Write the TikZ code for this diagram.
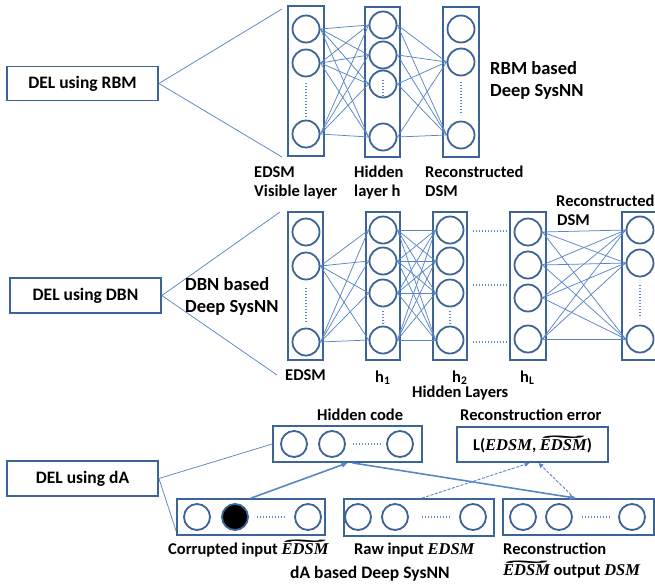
\documentclass[tikz,border=0pt]{standalone}
\usepackage{fontspec}
\usepackage{graphicx}
\setmainfont{Carlito}
\newfontfamily\serifvar{Liberation Serif}
\usetikzlibrary{arrows.meta}
\definecolor{framecol}{RGB}{60,100,150}
\definecolor{linkcol}{RGB}{88,135,200}
% bold italic variable names, as in the equation editor
\newcommand{\mvar}[1]{{\serifvar\bfseries\itshape #1}}
% a variable name with a wide tilde stretched over it
\newsavebox{\wordbox}
\newcommand{\tilword}[1]{\sbox{\wordbox}{\mvar{#1}}%
  \makebox[0pt][l]{\raisebox{2.2pt}{\makebox[\wd\wordbox]{\resizebox{0.9\wd\wordbox}{\height}{\serifvar\bfseries\char"02DC}}}}%
  \usebox{\wordbox}}

\begin{document}
\begin{tikzpicture}[x=1pt,y=-1pt,
  every node/.style={font=\fontsize{16.5}{19}\selectfont\bfseries},
  big/.style={font=\fontsize{18.5}{21}\selectfont\bfseries},
  mid/.style={font=\fontsize{17.5}{20}\selectfont\bfseries},
  frame/.style={draw=framecol,line width=1.8pt,inner sep=0pt},
  unit/.style={circle,draw=framecol,line width=1.8pt,minimum size=27pt,inner sep=0pt},
  sunit/.style={unit,minimum size=26pt},
  link/.style={draw=linkcol,line width=0.75pt},
  ellipsis/.style={draw=linkcol,line width=1.5pt,dash pattern=on 1.4pt off 1.6pt},
  delbox/.style={frame,mid,minimum width=151pt,minimum height=34pt},
  txt/.style={anchor=base west,inner sep=0pt},
  flow/.style={draw=linkcol,line width=1.6pt,-{Triangle[length=6pt,width=5pt]}},
  hint/.style={draw=linkcol,line width=0.9pt,dash pattern=on 3pt off 1.5pt,-{Triangle[length=5pt,width=4.5pt]}},
]
\fill[white] (0,0) rectangle (655,587);
\useasboundingbox (0,0) rectangle (655,587);

% ---------------- RBM ----------------
\node[delbox] (delR) at (82.5,83.5) {DEL using RBM};
\node[frame,minimum width=36pt,minimum height=150pt] (TV) at (306,81) {};
\node[frame,minimum width=35pt,minimum height=150pt] (TH) at (382.5,82) {};
\node[frame,minimum width=36pt,minimum height=150pt] (TR) at (461,82) {};
\foreach \n/\y in {1/29,2/63,4/134} \node[unit] (tv\n) at (306,\y) {};
\foreach \n/\y in {1/25,2/55,3/84,4/137} \node[unit] (th\n) at (383,\y) {};
\foreach \n/\y in {1/29,2/62,4/135} \node[unit] (tr\n) at (461,\y) {};
\draw[ellipsis] (306,83) -- (306,117);
\draw[ellipsis] (383,80) -- (383,97);
\draw[ellipsis] (461,82) -- (461,115);
\coordinate (rbmTop) at (282,9);
\coordinate (rbmBot) at (282,157);
\draw[link] (delR.east) -- (rbmTop);
\draw[link] (delR.east) -- (rbmBot);
\foreach \a in {1,2,4} \foreach \b in {1,...,4} \draw[link] (tv\a.east) -- (th\b.west);
\foreach \b in {1,...,4} \foreach \c in {2,4} \draw[link] (th\b.east) -- (tr\c.west);
\node[txt] at (254,177) {EDSM};
\node[txt] at (254,196) {Visible layer};
\node[txt] at (354,177) {Hidden};
\node[txt] at (354,196) {layer h};
\node[txt] at (425,177) {Reconstructed};
\node[txt] at (425,196) {DSM};
\node[txt,big] at (490,74) {RBM based};
\node[txt,big] at (490,96) {Deep SysNN};

% ---------------- DBN ----------------
\node[delbox,minimum height=35pt] (delD) at (85.5,295.5) {DEL using DBN};
\node[frame,minimum width=35pt,minimum height=148pt] (MV) at (305.5,286) {};
\node[frame,minimum width=34pt,minimum height=148pt] (H1) at (383,286) {};
\node[frame,minimum width=34pt,minimum height=148pt] (H2) at (450,286) {};
\node[frame,minimum width=36pt,minimum height=148pt] (HL) at (528,286) {};
\node[frame,minimum width=36pt,minimum height=148pt] (MR) at (640,286) {};
\foreach \n/\y in {1/232,2/266,4/342} \node[unit] (mv\n) at (306,\y) {};
\foreach \n/\y in {1/230,2/261,3/293,4/340} {
  \node[unit] (ha\n) at (383,\y) {};
  \node[unit] (hb\n) at (450,\y) {};
}
\foreach \n/\y in {1/232,2/265,3/298,4/339} \node[unit] (hl\n) at (528,\y) {};
\foreach \n/\y in {1/230,2/263,4/339} \node[unit] (mr\n) at (640,\y) {};
\draw[ellipsis] (306,288) -- (306,323);
\draw[ellipsis] (383,311) -- (383,324);
\draw[ellipsis] (450,311) -- (450,324);
\draw[ellipsis] (640,285) -- (640,318);
\foreach \y in {231,285,342} \draw[ellipsis] (473,\y) -- (507,\y);
\coordinate (dbnTop) at (280,212);
\coordinate (dbnBot) at (277,375);
\draw[link] (delD.east) -- (dbnTop);
\draw[link] (delD.east) -- (dbnBot);
\foreach \a in {2,4} \foreach \b in {1,...,4} \draw[link] (mv\a.east) -- (ha\b.west);
\foreach \a in {1,...,4} \foreach \b in {1,...,4} \draw[link] (ha\a.east) -- (hb\b.west);
\foreach \a in {1,...,4} \foreach \c in {1,2,4} \draw[link] (hl\a.east) -- (mr\c.west);
\node[txt,big] at (185,290) {DBN based};
\node[txt,big] at (185,312) {Deep SysNN};
\node[txt] at (285,380) {EDSM};
\node[txt] at (375,382) {h\textsubscript{1}};
\node[txt] at (452,382) {h\textsubscript{2}};
\node[txt] at (520,382) {h\textsubscript{L}};
\node[txt] at (412,397) {Hidden Layers};
\node[txt] at (556,206) {Reconstructed};
\node[txt] at (557,225) {DSM};

% ---------------- dA ----------------
\node[delbox,minimum height=35pt] (delA) at (82.5,478.5) {DEL using dA};
\node[frame,minimum width=149pt,minimum height=36pt] (hid) at (347.5,444) {};
\node[frame,minimum width=151pt,minimum height=35pt] (err) at (532.5,444.5)
  {L(\mvar{EDSM}, \tilword{EDSM})};
\node[frame,minimum width=148pt,minimum height=36pt] (cor) at (251,517) {};
\node[frame,minimum width=150pt,minimum height=37pt] (raw) at (419,517.5) {};
\node[frame,minimum width=151pt,minimum height=36pt] (rec) at (578.5,517) {};
\foreach \n/\x in {1/294,2/332,3/400} \node[sunit] (hc\n) at (\x,444) {};
\node[sunit] (cu1) at (197,517) {};
\node[sunit,fill=black] (cu2) at (235,517) {};
\node[sunit] (cu3) at (308,517) {};
\foreach \n/\x in {1/358,2/395,3/473} \node[sunit] (ru\n) at (\x,517) {};
\foreach \n/\x in {1/523,2/559,3/632} \node[sunit] (oc\n) at (\x,517) {};
\draw[ellipsis] (353,444) -- (383,444);
\draw[ellipsis] (257,517) -- (285,517);
\draw[ellipsis] (422,517) -- (450,517);
\draw[ellipsis] (582,517) -- (611,517);
\draw[link] (delA.east) -- (hid.west);
\draw[link] (delA.east) -- ([yshift=5pt]cor.south west);
\draw[flow] (cor.north) -- (hid.south);
\draw[flow] ([xshift=5pt]hid.south) -- ([xshift=-3pt]rec.north);
\draw[hint] ([xshift=3pt]raw.north) -- ([xshift=-3pt]err.south);
\draw[hint] ([xshift=-4pt]rec.north) -- ([xshift=6pt]err.south);
\node[txt] at (317,420) {Hidden code};
\node[txt] at (460,420) {Reconstruction error};
\node[txt] at (168,554) {Corrupted input \tilword{EDSM}};
\node[txt] at (354,554) {Raw input \mvar{EDSM}};
\node[txt] at (503,554) {Reconstruction};
\node[txt] at (503,575) {\tilword{EDSM} output \mvar{DSM}};
\node[txt,mid] at (290,578) {dA based Deep SysNN};
\end{tikzpicture}
\end{document}
